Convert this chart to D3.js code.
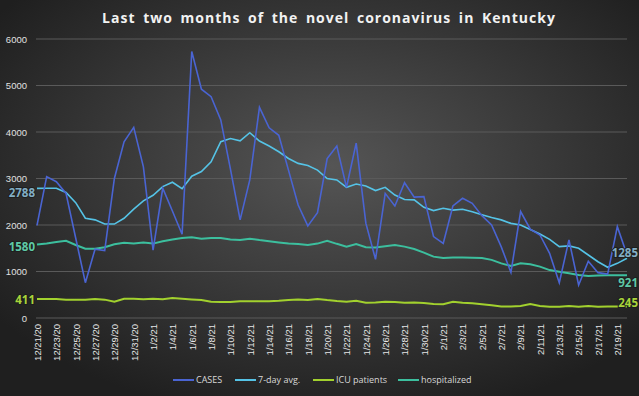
<!DOCTYPE html>
<html>
<head>
<meta charset="utf-8">
<style>
  body { margin: 0; background: #2b2b2b; }
  svg { display: block; font-family: "Open Sans", "Liberation Sans", sans-serif; }
  .grid line { stroke: #5a5a5a; stroke-width: 1.2px; }
  .tick-y { fill: #e0e0e0; font-size: 9.5px; }
  .tick-x { fill: #e6e6e6; font-size: 9.5px; }
  .legend text { fill: #d8d8d8; font-size: 9px; }
  .endlabel { font-weight: bold; font-size: 11.5px; paint-order: stroke; stroke: #1e1e1e; stroke-width: 2px; }
</style>
</head>
<body>
<div id="chart"></div>
<script src="https://d3js.org/d3.v7.min.js"></script>
<script>
// categories: 12/21/20 .. 2/20/21, one per day
var dates = d3.timeDay.range(new Date(2020, 11, 21), new Date(2021, 1, 21))
  .map(d3.timeFormat("%-m/%-d/%y"));

var cases = [1990, 3040, 2930, 2680, 1720, 760, 1480, 1450, 3000, 3790,
  4100, 3250, 1460, 2790, 2300, 1800, 5730, 4920, 4760, 4260,
  3200, 2110, 2970, 4530, 4090, 3930, 3180, 2430, 1980, 2265,
  3430, 3700, 2810, 3760, 2040, 1260, 2680, 2410, 2910, 2600,
  2610, 1750, 1605, 2410, 2575, 2465, 2200, 2000, 1530, 980,
  2290, 1910, 1785, 1390, 760, 1680, 710, 1220, 975, 945,
  1965, 1360];

var avg7 = [2788, 2790, 2790, 2700, 2480, 2145, 2110, 2020, 2020, 2145,
  2340, 2520, 2640, 2825, 2920, 2780, 3050, 3150, 3360, 3790,
  3860, 3810, 3985, 3805, 3700, 3575, 3430, 3325, 3280, 3180,
  3000, 2970, 2810, 2880, 2840, 2740, 2810, 2645, 2550, 2540,
  2380, 2310, 2360, 2320, 2340, 2285, 2220, 2160, 2110, 2035,
  2000, 1905, 1805, 1690, 1535, 1550, 1500, 1355, 1210, 1090,
  1175, 1285];

var icu = [411, 411, 410, 395, 395, 395, 410, 395, 350, 415,
  415, 405, 415, 405, 430, 415, 400, 385, 350, 345,
  345, 360, 360, 360, 360, 370, 385, 400, 385, 410,
  385, 365, 350, 370, 330, 335, 350, 345, 330, 335,
  320, 300, 295, 350, 330, 315, 295, 272, 245, 245,
  258, 300, 258, 240, 240, 260, 240, 260, 240, 245,
  245, 245];

var hosp = [1580, 1600, 1635, 1660, 1570, 1490, 1490, 1520, 1585, 1620,
  1600, 1625, 1600, 1650, 1690, 1720, 1735, 1705, 1720, 1720,
  1690, 1675, 1705, 1675, 1650, 1625, 1600, 1590, 1570, 1600,
  1660, 1595, 1535, 1590, 1520, 1515, 1545, 1570, 1535, 1485,
  1405, 1320, 1290, 1300, 1300, 1295, 1288, 1250, 1175, 1120,
  1175, 1155, 1105, 1030, 995, 960, 925, 905, 915, 920,
  921, 921];

var yTicks = [0, 1000, 2000, 3000, 4000, 5000, 6000];
var xTicks = dates.filter(function(d, i) { return i % 2 === 0; });

var series = [
  { name: "CASES", values: cases, color: "#4a64d2", width: 1.6 },
  { name: "7-day avg.", values: avg7, color: "#55c3e6", width: 1.6 },
  { name: "ICU patients", values: icu, color: "#a2d12e", width: 2 },
  { name: "hospitalized", values: hosp, color: "#3cbf9e", width: 2 }
];

var width = 639, height = 396;

var svg = d3.select("#chart").append("svg")
  .attr("width", width)
  .attr("height", height);

// background gradient
var defs = svg.append("defs");
var grad = defs.append("radialGradient")
  .attr("id", "bg")
  .attr("cx", "52%").attr("cy", "42%").attr("r", "65%");
grad.append("stop").attr("offset", "0%").attr("stop-color", "#555555");
grad.append("stop").attr("offset", "100%").attr("stop-color", "#1f1f1f");
svg.append("rect")
  .attr("width", width).attr("height", height)
  .attr("fill", "url(#bg)");

var x = d3.scalePoint().domain(dates).range([37, 627]);
var y = d3.scaleLinear().domain([0, 6000]).range([318, 39]);

// gridlines
svg.append("g").attr("class", "grid")
  .selectAll("line")
  .data(yTicks)
  .enter().append("line")
  .attr("x1", 36).attr("x2", 627)
  .attr("y1", function(d) { return y(d); })
  .attr("y2", function(d) { return y(d); });

// y axis
var yAxis = svg.append("g")
  .attr("transform", "translate(27,0)")
  .call(d3.axisLeft(y).tickValues(yTicks).tickSize(0).tickPadding(0).tickFormat(d3.format("d")));
yAxis.select(".domain").remove();
yAxis.selectAll("text").attr("class", "tick-y").attr("fill", null);

// x axis
var xAxis = svg.append("g")
  .attr("transform", "translate(0,322)")
  .call(d3.axisBottom(x).tickValues(xTicks).tickSize(0).tickPadding(0));
xAxis.select(".domain").remove();
xAxis.selectAll("text")
  .attr("class", "tick-x")
  .attr("fill", null)
  .attr("transform", "rotate(-90)")
  .attr("x", 0).attr("y", 0)
  .attr("dx", "-0.2em").attr("dy", "0.35em")
  .style("text-anchor", "end");

// lines
var line = function(vals) {
  return d3.line()
    .x(function(d, i) { return x(dates[i]); })
    .y(function(d) { return y(d); })(vals);
};

[series[3], series[2], series[1], series[0]].forEach(function(s) {
  svg.append("path")
    .attr("d", line(s.values))
    .attr("fill", "none")
    .attr("stroke", s.color)
    .attr("stroke-width", s.width)
    .attr("stroke-linejoin", "miter");
});

// start / end value labels
var startLabels = [
  { v: avg7[0], color: "#82aec4", dy: 8.5 },
  { v: hosp[0], color: "#5fc9a6", dy: 6.5 },
  { v: icu[0], color: "#a8d43a", dy: 5 }
];
svg.selectAll(".startlabel")
  .data(startLabels)
  .enter().append("text")
  .attr("class", "endlabel")
  .attr("x", 35)
  .attr("y", function(d) { return y(d.v) + d.dy; })
  .attr("text-anchor", "end")
  .attr("fill", function(d) { return d.color; })
  .text(function(d) { return d.v; });

var n = dates.length - 1;
var endLabels = [
  { v: avg7[n], color: "#82aec4", dy: -1 },
  { v: hosp[n], color: "#5fc9a6", dy: 12 },
  { v: icu[n], color: "#a8d43a", dy: 0.5 }
];
svg.selectAll(".endlab")
  .data(endLabels)
  .enter().append("text")
  .attr("class", "endlabel")
  .attr("x", 638)
  .attr("y", function(d) { return y(d.v) + d.dy; })
  .attr("text-anchor", "end")
  .attr("fill", function(d) { return d.color; })
  .text(function(d) { return d.v; });

// title
svg.append("text")
  .attr("x", 329).attr("y", 23)
  .attr("text-anchor", "middle")
  .attr("fill", "#f2f2f2")
  .style("font-size", "14px")
  .style("font-weight", "bold")
  .style("letter-spacing", "1px")
  .style("word-spacing", "3px")
  .text("Last two months of the novel coronavirus in Kentucky");

// legend
var legendX = [173, 235, 313, 398];
var legend = svg.append("g").attr("class", "legend")
  .selectAll("g")
  .data(series)
  .enter().append("g")
  .attr("transform", function(d, i) { return "translate(" + legendX[i] + ",380)"; });
legend.append("line")
  .attr("x1", 0).attr("x2", 21)
  .attr("stroke", function(d) { return d.color; })
  .attr("stroke-width", 2);
legend.append("text")
  .attr("x", 23).attr("dy", "0.35em")
  .text(function(d) { return d.name; });
</script>
</body>
</html>
